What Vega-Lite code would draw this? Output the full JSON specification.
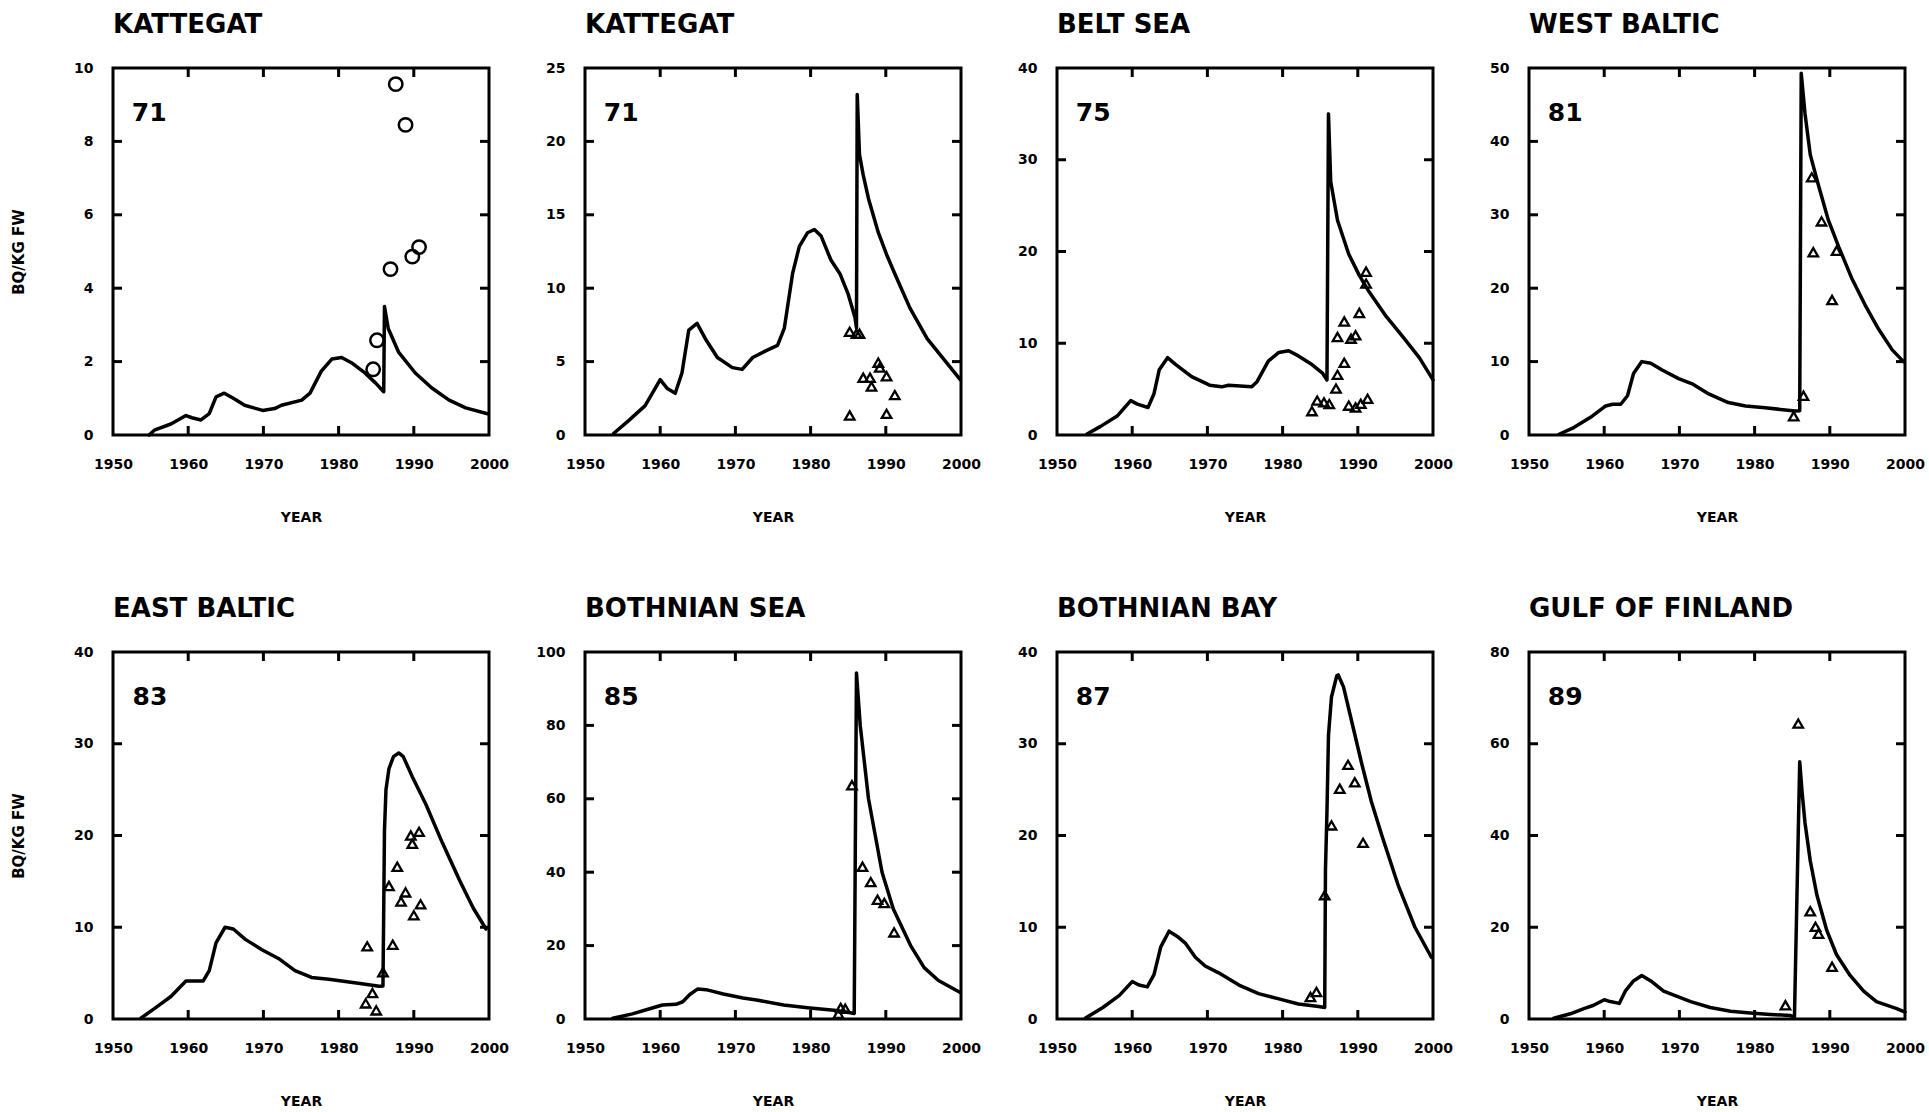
{
  "$schema": "https://vega.github.io/schema/vega-lite/v6.json",
  "padding": {"left": 10, "top": 10, "right": 0, "bottom": 0},
  "background": "white",
  "config": {
    "font": "DejaVu Sans",
    "view": {"stroke": "black", "strokeWidth": 3},
    "axis": {
      "domain": false, "grid": false, "ticks": false,
      "labelFont": "DejaVu Sans", "labelFontWeight": "bold", "labelFontSize": 14, "labelColor": "black",
      "labelFlush": false, "labelOverlap": false, "labelBound": false,
      "titleFont": "DejaVu Sans", "titleFontWeight": "bold", "titleFontSize": 14, "titleColor": "black"
    },
    "axisX": {"labelPadding": 22, "titlePadding": 39, "format": "d"},
    "axisY": {"labelPadding": 20, "titlePadding": 47, "titleFontSize": 15},
    "title": {"font": "DejaVu Sans", "fontSize": 26, "fontWeight": "bold", "anchor": "start", "frame": "group", "color": "black", "offset": 23},
    "line": {"color": "black", "strokeWidth": 3.5, "strokeJoin": "round", "strokeCap": "round", "clip": true},
    "rule": {"color": "black", "strokeWidth": 3},
    "point": {"color": "black", "filled": false, "strokeWidth": 2.3, "opacity": 1},
    "text": {"color": "black", "font": "DejaVu Sans", "fontSize": 25, "fontWeight": "bold", "align": "left", "baseline": "alphabetic"}
  },
  "datasets": {
    "xticks": [{"year": 1960}, {"year": 1970}, {"year": 1980}, {"year": 1990}],
    "yticks": [
      {"p":1,"bq":2},{"p":1,"bq":4},{"p":1,"bq":6},{"p":1,"bq":8},
      {"p":2,"bq":5},{"p":2,"bq":10},{"p":2,"bq":15},{"p":2,"bq":20},
      {"p":3,"bq":10},{"p":3,"bq":20},{"p":3,"bq":30},
      {"p":4,"bq":10},{"p":4,"bq":20},{"p":4,"bq":30},{"p":4,"bq":40},
      {"p":5,"bq":10},{"p":5,"bq":20},{"p":5,"bq":30},
      {"p":6,"bq":20},{"p":6,"bq":40},{"p":6,"bq":60},{"p":6,"bq":80},
      {"p":7,"bq":10},{"p":7,"bq":20},{"p":7,"bq":30},
      {"p":8,"bq":20},{"p":8,"bq":40},{"p":8,"bq":60}
    ],
    "model": [
      {"p":1,"year":1954.8,"bq":0},{"p":1,"year":1955.5,"bq":0.13},{"p":1,"year":1957.7,"bq":0.3},{"p":1,"year":1959.7,"bq":0.53},{"p":1,"year":1960.5,"bq":0.47},{"p":1,"year":1961.7,"bq":0.41},{"p":1,"year":1962.8,"bq":0.58},{"p":1,"year":1963.7,"bq":1.04},{"p":1,"year":1964.8,"bq":1.14},{"p":1,"year":1966,"bq":1.0},{"p":1,"year":1967.5,"bq":0.81},{"p":1,"year":1969.9,"bq":0.67},{"p":1,"year":1971.5,"bq":0.72},{"p":1,"year":1972.4,"bq":0.81},{"p":1,"year":1975.1,"bq":0.95},{"p":1,"year":1976.2,"bq":1.14},{"p":1,"year":1977.7,"bq":1.74},{"p":1,"year":1979.1,"bq":2.07},{"p":1,"year":1980.4,"bq":2.11},{"p":1,"year":1981.7,"bq":1.97},{"p":1,"year":1983.5,"bq":1.69},{"p":1,"year":1984.9,"bq":1.42},{"p":1,"year":1986.0,"bq":1.18},{"p":1,"year":1986.1,"bq":3.5},{"p":1,"year":1986.6,"bq":2.9},{"p":1,"year":1988.0,"bq":2.25},{"p":1,"year":1990.2,"bq":1.69},{"p":1,"year":1992.4,"bq":1.28},{"p":1,"year":1994.7,"bq":0.95},{"p":1,"year":1996.9,"bq":0.74},{"p":1,"year":1999.8,"bq":0.58},
      {"p":2,"year":1953.8,"bq":0.1},{"p":2,"year":1955.8,"bq":0.98},{"p":2,"year":1958.0,"bq":2.0},{"p":2,"year":1960.0,"bq":3.77},{"p":2,"year":1960.9,"bq":3.19},{"p":2,"year":1962.0,"bq":2.84},{"p":2,"year":1962.9,"bq":4.24},{"p":2,"year":1963.8,"bq":7.15},{"p":2,"year":1964.9,"bq":7.6},{"p":2,"year":1966.0,"bq":6.56},{"p":2,"year":1967.6,"bq":5.28},{"p":2,"year":1969.6,"bq":4.59},{"p":2,"year":1970.9,"bq":4.47},{"p":2,"year":1972.3,"bq":5.28},{"p":2,"year":1974.1,"bq":5.75},{"p":2,"year":1975.6,"bq":6.1},{"p":2,"year":1976.5,"bq":7.26},{"p":2,"year":1977.6,"bq":10.99},{"p":2,"year":1978.5,"bq":12.85},{"p":2,"year":1979.6,"bq":13.78},{"p":2,"year":1980.5,"bq":14.0},{"p":2,"year":1981.4,"bq":13.55},{"p":2,"year":1982.7,"bq":11.92},{"p":2,"year":1983.9,"bq":10.99},{"p":2,"year":1985.0,"bq":9.59},{"p":2,"year":1985.9,"bq":8.0},{"p":2,"year":1986.1,"bq":7.3},{"p":2,"year":1986.2,"bq":23.2},{"p":2,"year":1986.5,"bq":19.1},{"p":2,"year":1987.0,"bq":17.7},{"p":2,"year":1987.7,"bq":16.1},{"p":2,"year":1989.0,"bq":13.8},{"p":2,"year":1990.1,"bq":12.3},{"p":2,"year":1991.4,"bq":10.75},{"p":2,"year":1993.2,"bq":8.66},{"p":2,"year":1995.5,"bq":6.56},{"p":2,"year":1997.7,"bq":5.17},{"p":2,"year":1999.9,"bq":3.77},
      {"p":3,"year":1954.0,"bq":0.1},{"p":3,"year":1955.8,"bq":0.94},{"p":3,"year":1958.0,"bq":2.06},{"p":3,"year":1959.8,"bq":3.75},{"p":3,"year":1960.7,"bq":3.37},{"p":3,"year":1962.1,"bq":3.0},{"p":3,"year":1962.9,"bq":4.5},{"p":3,"year":1963.6,"bq":7.12},{"p":3,"year":1964.7,"bq":8.43},{"p":3,"year":1965.8,"bq":7.68},{"p":3,"year":1967.9,"bq":6.37},{"p":3,"year":1970.3,"bq":5.43},{"p":3,"year":1971.9,"bq":5.25},{"p":3,"year":1972.8,"bq":5.43},{"p":3,"year":1975.9,"bq":5.25},{"p":3,"year":1976.6,"bq":5.81},{"p":3,"year":1978.1,"bq":8.06},{"p":3,"year":1979.5,"bq":9.0},{"p":3,"year":1980.8,"bq":9.18},{"p":3,"year":1982.1,"bq":8.62},{"p":3,"year":1983.9,"bq":7.68},{"p":3,"year":1985.3,"bq":6.75},{"p":3,"year":1985.9,"bq":6.0},{"p":3,"year":1986.1,"bq":35.0},{"p":3,"year":1986.4,"bq":27.6},{"p":3,"year":1987.3,"bq":23.4},{"p":3,"year":1988.8,"bq":19.7},{"p":3,"year":1990.2,"bq":17.4},{"p":3,"year":1991.5,"bq":15.6},{"p":3,"year":1993.8,"bq":12.9},{"p":3,"year":1996.0,"bq":10.7},{"p":3,"year":1998.2,"bq":8.4},{"p":3,"year":2000.0,"bq":6.0},
      {"p":4,"year":1954.0,"bq":0.1},{"p":4,"year":1955.8,"bq":0.93},{"p":4,"year":1958.4,"bq":2.56},{"p":4,"year":1960.2,"bq":3.96},{"p":4,"year":1961.1,"bq":4.19},{"p":4,"year":1962.2,"bq":4.19},{"p":4,"year":1963.1,"bq":5.35},{"p":4,"year":1963.9,"bq":8.38},{"p":4,"year":1965.0,"bq":10.0},{"p":4,"year":1966.2,"bq":9.78},{"p":4,"year":1967.7,"bq":8.85},{"p":4,"year":1969.9,"bq":7.68},{"p":4,"year":1971.7,"bq":6.98},{"p":4,"year":1973.9,"bq":5.59},{"p":4,"year":1976.5,"bq":4.42},{"p":4,"year":1978.8,"bq":3.96},{"p":4,"year":1981.4,"bq":3.72},{"p":4,"year":1985.4,"bq":3.26},{"p":4,"year":1986.0,"bq":3.3},{"p":4,"year":1986.2,"bq":49.3},{"p":4,"year":1986.7,"bq":43.8},{"p":4,"year":1987.4,"bq":38.2},{"p":4,"year":1988.5,"bq":34.0},{"p":4,"year":1989.8,"bq":29.3},{"p":4,"year":1991.2,"bq":25.6},{"p":4,"year":1992.9,"bq":21.4},{"p":4,"year":1994.7,"bq":17.7},{"p":4,"year":1996.5,"bq":14.4},{"p":4,"year":1998.3,"bq":11.6},{"p":4,"year":1999.8,"bq":10.0},
      {"p":5,"year":1953.7,"bq":0.08},{"p":5,"year":1955.5,"bq":1.13},{"p":5,"year":1957.7,"bq":2.45},{"p":5,"year":1959.7,"bq":4.15},{"p":5,"year":1960.8,"bq":4.15},{"p":5,"year":1962.0,"bq":4.15},{"p":5,"year":1962.8,"bq":5.28},{"p":5,"year":1963.7,"bq":8.3},{"p":5,"year":1964.9,"bq":10.0},{"p":5,"year":1966.0,"bq":9.81},{"p":5,"year":1967.6,"bq":8.68},{"p":5,"year":1969.8,"bq":7.55},{"p":5,"year":1972.0,"bq":6.6},{"p":5,"year":1974.2,"bq":5.28},{"p":5,"year":1976.4,"bq":4.53},{"p":5,"year":1978.7,"bq":4.34},{"p":5,"year":1980.9,"bq":4.08},{"p":5,"year":1983.1,"bq":3.85},{"p":5,"year":1985.4,"bq":3.58},{"p":5,"year":1985.9,"bq":3.6},{"p":5,"year":1986.0,"bq":12.0},{"p":5,"year":1986.1,"bq":20.5},{"p":5,"year":1986.3,"bq":25.0},{"p":5,"year":1986.7,"bq":27.3},{"p":5,"year":1987.3,"bq":28.6},{"p":5,"year":1988.0,"bq":29.0},{"p":5,"year":1988.6,"bq":28.6},{"p":5,"year":1989.8,"bq":26.4},{"p":5,"year":1991.6,"bq":23.4},{"p":5,"year":1993.8,"bq":19.2},{"p":5,"year":1996.1,"bq":15.1},{"p":5,"year":1997.9,"bq":12.1},{"p":5,"year":1999.6,"bq":9.81},
      {"p":6,"year":1953.7,"bq":0.2},{"p":6,"year":1956.3,"bq":1.4},{"p":6,"year":1958.6,"bq":2.8},{"p":6,"year":1960.3,"bq":3.8},{"p":6,"year":1962.1,"bq":4.0},{"p":6,"year":1963.0,"bq":4.7},{"p":6,"year":1963.9,"bq":6.6},{"p":6,"year":1965.0,"bq":8.2},{"p":6,"year":1966.1,"bq":8.0},{"p":6,"year":1968.4,"bq":6.8},{"p":6,"year":1971.0,"bq":5.7},{"p":6,"year":1972.8,"bq":5.2},{"p":6,"year":1976.4,"bq":3.8},{"p":6,"year":1979.9,"bq":3.0},{"p":6,"year":1983.1,"bq":2.4},{"p":6,"year":1985.3,"bq":1.7},{"p":6,"year":1985.8,"bq":1.5},{"p":6,"year":1986.1,"bq":94.3},{"p":6,"year":1986.6,"bq":80.0},{"p":6,"year":1987.7,"bq":60.0},{"p":6,"year":1989.5,"bq":40.0},{"p":6,"year":1991.0,"bq":30.0},{"p":6,"year":1993.3,"bq":20.0},{"p":6,"year":1995.1,"bq":14.0},{"p":6,"year":1997.0,"bq":10.5},{"p":6,"year":1999.9,"bq":7.2},
      {"p":7,"year":1953.8,"bq":0.1},{"p":7,"year":1956.1,"bq":1.25},{"p":7,"year":1958.3,"bq":2.57},{"p":7,"year":1960.0,"bq":4.08},{"p":7,"year":1960.9,"bq":3.7},{"p":7,"year":1962.0,"bq":3.5},{"p":7,"year":1962.9,"bq":4.84},{"p":7,"year":1963.8,"bq":7.86},{"p":7,"year":1964.9,"bq":9.57},{"p":7,"year":1966.0,"bq":9.0},{"p":7,"year":1967.1,"bq":8.24},{"p":7,"year":1968.4,"bq":6.73},{"p":7,"year":1969.7,"bq":5.78},{"p":7,"year":1971.5,"bq":5.03},{"p":7,"year":1974.2,"bq":3.7},{"p":7,"year":1976.8,"bq":2.76},{"p":7,"year":1979.5,"bq":2.19},{"p":7,"year":1982.1,"bq":1.63},{"p":7,"year":1984.8,"bq":1.36},{"p":7,"year":1985.6,"bq":1.25},{"p":7,"year":1985.7,"bq":16.2},{"p":7,"year":1985.9,"bq":22.6},{"p":7,"year":1986.1,"bq":30.9},{"p":7,"year":1986.5,"bq":35.1},{"p":7,"year":1987.2,"bq":37.4},{"p":7,"year":1987.4,"bq":37.5},{"p":7,"year":1988.1,"bq":36.2},{"p":7,"year":1989.2,"bq":32.4},{"p":7,"year":1990.5,"bq":27.9},{"p":7,"year":1991.8,"bq":23.7},{"p":7,"year":1993.2,"bq":20.0},{"p":7,"year":1995.4,"bq":14.5},{"p":7,"year":1997.6,"bq":10.0},{"p":7,"year":1999.8,"bq":6.7},
      {"p":8,"year":1953.3,"bq":0.15},{"p":8,"year":1955.5,"bq":1.14},{"p":8,"year":1957.3,"bq":2.27},{"p":8,"year":1958.6,"bq":3.0},{"p":8,"year":1960.0,"bq":4.2},{"p":8,"year":1960.8,"bq":3.8},{"p":8,"year":1962.0,"bq":3.4},{"p":8,"year":1962.8,"bq":6.07},{"p":8,"year":1963.9,"bq":8.3},{"p":8,"year":1965.0,"bq":9.5},{"p":8,"year":1966.2,"bq":8.3},{"p":8,"year":1967.9,"bq":6.07},{"p":8,"year":1969.7,"bq":4.93},{"p":8,"year":1971.5,"bq":3.8},{"p":8,"year":1974.1,"bq":2.5},{"p":8,"year":1976.8,"bq":1.67},{"p":8,"year":1979.4,"bq":1.3},{"p":8,"year":1982.1,"bq":1.0},{"p":8,"year":1984.7,"bq":0.76},{"p":8,"year":1985.3,"bq":0.4},{"p":8,"year":1986.0,"bq":56.1},{"p":8,"year":1986.3,"bq":49.7},{"p":8,"year":1986.7,"bq":42.8},{"p":8,"year":1987.4,"bq":34.5},{"p":8,"year":1988.3,"bq":26.9},{"p":8,"year":1989.6,"bq":19.3},{"p":8,"year":1990.9,"bq":14.0},{"p":8,"year":1992.7,"bq":9.5},{"p":8,"year":1994.5,"bq":6.07},{"p":8,"year":1996.2,"bq":3.8},{"p":8,"year":1998.9,"bq":2.27},{"p":8,"year":2000.0,"bq":1.5}
    ],
    "obs": [
      {"p":1,"year":1987.6,"bq":9.56},{"p":1,"year":1988.9,"bq":8.45},{"p":1,"year":1986.9,"bq":4.52},{"p":1,"year":1989.8,"bq":4.86},{"p":1,"year":1990.7,"bq":5.12},{"p":1,"year":1985.1,"bq":2.58},{"p":1,"year":1984.6,"bq":1.79},
      {"p":2,"year":1985.2,"bq":7.03},{"p":2,"year":1986.1,"bq":6.9},{"p":2,"year":1986.5,"bq":6.9},{"p":2,"year":1987.0,"bq":3.9},{"p":2,"year":1987.9,"bq":3.9},{"p":2,"year":1988.1,"bq":3.3},{"p":2,"year":1989.0,"bq":4.93},{"p":2,"year":1989.2,"bq":4.6},{"p":2,"year":1990.1,"bq":4.0},{"p":2,"year":1991.2,"bq":2.72},{"p":2,"year":1985.2,"bq":1.33},{"p":2,"year":1990.1,"bq":1.44},
      {"p":3,"year":1983.9,"bq":2.6},{"p":3,"year":1984.6,"bq":3.75},{"p":3,"year":1985.5,"bq":3.56},{"p":3,"year":1986.2,"bq":3.37},{"p":3,"year":1987.1,"bq":5.06},{"p":3,"year":1987.3,"bq":6.56},{"p":3,"year":1988.2,"bq":7.87},{"p":3,"year":1987.3,"bq":10.68},{"p":3,"year":1988.2,"bq":12.37},{"p":3,"year":1989.1,"bq":10.5},{"p":3,"year":1989.7,"bq":10.87},{"p":3,"year":1990.2,"bq":13.3},{"p":3,"year":1988.8,"bq":3.2},{"p":3,"year":1989.7,"bq":3.0},{"p":3,"year":1990.4,"bq":3.4},{"p":3,"year":1991.3,"bq":3.94},{"p":3,"year":1991.1,"bq":17.8},{"p":3,"year":1991.1,"bq":16.5},
      {"p":4,"year":1985.2,"bq":2.56},{"p":4,"year":1986.5,"bq":5.35},{"p":4,"year":1987.6,"bq":35.1},{"p":4,"year":1988.9,"bq":29.1},{"p":4,"year":1987.8,"bq":24.9},{"p":4,"year":1990.9,"bq":25.1},{"p":4,"year":1990.3,"bq":18.4},
      {"p":5,"year":1983.8,"bq":7.92},{"p":5,"year":1987.2,"bq":8.1},{"p":5,"year":1986.7,"bq":14.5},{"p":5,"year":1987.8,"bq":16.6},{"p":5,"year":1988.3,"bq":12.8},{"p":5,"year":1988.9,"bq":13.8},{"p":5,"year":1989.6,"bq":20.0},{"p":5,"year":1990.7,"bq":20.4},{"p":5,"year":1989.8,"bq":19.1},{"p":5,"year":1990.9,"bq":12.5},{"p":5,"year":1990.0,"bq":11.3},{"p":5,"year":1984.5,"bq":2.83},{"p":5,"year":1983.6,"bq":1.7},{"p":5,"year":1985.0,"bq":0.94},{"p":5,"year":1985.9,"bq":5.1},
      {"p":6,"year":1985.5,"bq":63.7},{"p":6,"year":1986.9,"bq":41.5},{"p":6,"year":1988.0,"bq":37.3},{"p":6,"year":1988.9,"bq":32.5},{"p":6,"year":1989.8,"bq":31.6},{"p":6,"year":1991.1,"bq":23.6},{"p":6,"year":1984.0,"bq":3.0},{"p":6,"year":1984.6,"bq":2.8},{"p":6,"year":1983.7,"bq":1.4},
      {"p":7,"year":1986.5,"bq":21.1},{"p":7,"year":1987.6,"bq":25.1},{"p":7,"year":1988.7,"bq":27.7},{"p":7,"year":1989.6,"bq":25.8},{"p":7,"year":1990.7,"bq":19.2},{"p":7,"year":1983.7,"bq":2.4},{"p":7,"year":1984.5,"bq":2.95},{"p":7,"year":1985.6,"bq":13.5},
      {"p":8,"year":1985.8,"bq":64.4},{"p":8,"year":1987.4,"bq":23.5},{"p":8,"year":1988.1,"bq":20.1},{"p":8,"year":1988.5,"bq":18.6},{"p":8,"year":1990.3,"bq":11.4},{"p":8,"year":1984.1,"bq":3.0}
    ]
  },
  "columns": 4,
  "bounds": "flush",
  "spacing": {"row": 217, "column": 96},
  "concat": [
    {
      "title": "KATTEGAT", "width": 376, "height": 367,
      "layer": [
        {"data": {"name": "model"}, "transform": [{"filter": "datum.p == 1"}], "mark": "line",
         "encoding": {"x": {"field": "year", "type": "quantitative", "scale": {"domain": [1950, 2000]}, "axis": {"title": "YEAR", "values": [1950,1960,1970,1980,1990,2000]}},
                      "y": {"field": "bq", "type": "quantitative", "scale": {"domain": [0, 10]}, "axis": {"title": "BQ/KG FW", "values": [0,2,4,6,8,10]}}}},
        {"data": {"name": "obs"}, "transform": [{"filter": "datum.p == 1"}], "mark": {"type": "point", "shape": "circle", "size": 180, "strokeWidth": 2.5},
         "encoding": {"x": {"field": "year", "type": "quantitative", "scale": {"domain": [1950, 2000]}},
                      "y": {"field": "bq", "type": "quantitative", "scale": {"domain": [0, 10]}}}},
        {"data": {"name": "xticks"}, "mark": "rule",
         "encoding": {"x": {"field": "year", "type": "quantitative", "scale": {"domain": [1950, 2000]}},
                      "y": {"datum": 0, "type": "quantitative", "scale": {"domain": [0, 10]}}, "y2": {"datum": 0.245}}},
        {"data": {"name": "xticks"}, "mark": "rule",
         "encoding": {"x": {"field": "year", "type": "quantitative", "scale": {"domain": [1950, 2000]}},
                      "y": {"datum": 10, "type": "quantitative", "scale": {"domain": [0, 10]}}, "y2": {"datum": 9.755}}},
        {"data": {"name": "yticks"}, "transform": [{"filter": "datum.p == 1"}], "mark": "rule",
         "encoding": {"y": {"field": "bq", "type": "quantitative", "scale": {"domain": [0, 10]}},
                      "x": {"datum": 1950, "type": "quantitative", "scale": {"domain": [1950, 2000]}}, "x2": {"datum": 1951.2}}},
        {"data": {"name": "yticks"}, "transform": [{"filter": "datum.p == 1"}], "mark": "rule",
         "encoding": {"y": {"field": "bq", "type": "quantitative", "scale": {"domain": [0, 10]}},
                      "x": {"datum": 2000, "type": "quantitative", "scale": {"domain": [1950, 2000]}}, "x2": {"datum": 1998.8}}},
        {"data": {"values": [{}]}, "mark": "text",
         "encoding": {"x": {"datum": 1952.5, "type": "quantitative", "scale": {"domain": [1950, 2000]}},
                      "y": {"datum": 8.55, "type": "quantitative", "scale": {"domain": [0, 10]}},
                      "text": {"value": "71"}}}
      ]
    },
    {
      "title": "KATTEGAT", "width": 376, "height": 367,
      "layer": [
        {"data": {"name": "model"}, "transform": [{"filter": "datum.p == 2"}], "mark": "line",
         "encoding": {"x": {"field": "year", "type": "quantitative", "scale": {"domain": [1950, 2000]}, "axis": {"title": "YEAR", "values": [1950,1960,1970,1980,1990,2000]}},
                      "y": {"field": "bq", "type": "quantitative", "scale": {"domain": [0, 25]}, "axis": {"title": null, "values": [0,5,10,15,20,25]}}}},
        {"data": {"name": "obs"}, "transform": [{"filter": "datum.p == 2"}], "mark": {"type": "point", "shape": "triangle-up", "size": 90},
         "encoding": {"x": {"field": "year", "type": "quantitative", "scale": {"domain": [1950, 2000]}},
                      "y": {"field": "bq", "type": "quantitative", "scale": {"domain": [0, 25]}}}},
        {"data": {"name": "xticks"}, "mark": "rule",
         "encoding": {"x": {"field": "year", "type": "quantitative", "scale": {"domain": [1950, 2000]}},
                      "y": {"datum": 0, "type": "quantitative", "scale": {"domain": [0, 25]}}, "y2": {"datum": 0.61}}},
        {"data": {"name": "xticks"}, "mark": "rule",
         "encoding": {"x": {"field": "year", "type": "quantitative", "scale": {"domain": [1950, 2000]}},
                      "y": {"datum": 25, "type": "quantitative", "scale": {"domain": [0, 25]}}, "y2": {"datum": 24.39}}},
        {"data": {"name": "yticks"}, "transform": [{"filter": "datum.p == 2"}], "mark": "rule",
         "encoding": {"y": {"field": "bq", "type": "quantitative", "scale": {"domain": [0, 25]}},
                      "x": {"datum": 1950, "type": "quantitative", "scale": {"domain": [1950, 2000]}}, "x2": {"datum": 1951.2}}},
        {"data": {"name": "yticks"}, "transform": [{"filter": "datum.p == 2"}], "mark": "rule",
         "encoding": {"y": {"field": "bq", "type": "quantitative", "scale": {"domain": [0, 25]}},
                      "x": {"datum": 2000, "type": "quantitative", "scale": {"domain": [1950, 2000]}}, "x2": {"datum": 1998.8}}},
        {"data": {"values": [{}]}, "mark": "text",
         "encoding": {"x": {"datum": 1952.5, "type": "quantitative", "scale": {"domain": [1950, 2000]}},
                      "y": {"datum": 21.4, "type": "quantitative", "scale": {"domain": [0, 25]}},
                      "text": {"value": "71"}}}
      ]
    },
    {
      "title": "BELT SEA", "width": 376, "height": 367,
      "layer": [
        {"data": {"name": "model"}, "transform": [{"filter": "datum.p == 3"}], "mark": "line",
         "encoding": {"x": {"field": "year", "type": "quantitative", "scale": {"domain": [1950, 2000]}, "axis": {"title": "YEAR", "values": [1950,1960,1970,1980,1990,2000]}},
                      "y": {"field": "bq", "type": "quantitative", "scale": {"domain": [0, 40]}, "axis": {"title": null, "values": [0,10,20,30,40]}}}},
        {"data": {"name": "obs"}, "transform": [{"filter": "datum.p == 3"}], "mark": {"type": "point", "shape": "triangle-up", "size": 90},
         "encoding": {"x": {"field": "year", "type": "quantitative", "scale": {"domain": [1950, 2000]}},
                      "y": {"field": "bq", "type": "quantitative", "scale": {"domain": [0, 40]}}}},
        {"data": {"name": "xticks"}, "mark": "rule",
         "encoding": {"x": {"field": "year", "type": "quantitative", "scale": {"domain": [1950, 2000]}},
                      "y": {"datum": 0, "type": "quantitative", "scale": {"domain": [0, 40]}}, "y2": {"datum": 0.98}}},
        {"data": {"name": "xticks"}, "mark": "rule",
         "encoding": {"x": {"field": "year", "type": "quantitative", "scale": {"domain": [1950, 2000]}},
                      "y": {"datum": 40, "type": "quantitative", "scale": {"domain": [0, 40]}}, "y2": {"datum": 39.02}}},
        {"data": {"name": "yticks"}, "transform": [{"filter": "datum.p == 3"}], "mark": "rule",
         "encoding": {"y": {"field": "bq", "type": "quantitative", "scale": {"domain": [0, 40]}},
                      "x": {"datum": 1950, "type": "quantitative", "scale": {"domain": [1950, 2000]}}, "x2": {"datum": 1951.2}}},
        {"data": {"name": "yticks"}, "transform": [{"filter": "datum.p == 3"}], "mark": "rule",
         "encoding": {"y": {"field": "bq", "type": "quantitative", "scale": {"domain": [0, 40]}},
                      "x": {"datum": 2000, "type": "quantitative", "scale": {"domain": [1950, 2000]}}, "x2": {"datum": 1998.8}}},
        {"data": {"values": [{}]}, "mark": "text",
         "encoding": {"x": {"datum": 1952.5, "type": "quantitative", "scale": {"domain": [1950, 2000]}},
                      "y": {"datum": 34.2, "type": "quantitative", "scale": {"domain": [0, 40]}},
                      "text": {"value": "75"}}}
      ]
    },
    {
      "title": "WEST BALTIC", "width": 376, "height": 367,
      "layer": [
        {"data": {"name": "model"}, "transform": [{"filter": "datum.p == 4"}], "mark": "line",
         "encoding": {"x": {"field": "year", "type": "quantitative", "scale": {"domain": [1950, 2000]}, "axis": {"title": "YEAR", "values": [1950,1960,1970,1980,1990,2000]}},
                      "y": {"field": "bq", "type": "quantitative", "scale": {"domain": [0, 50]}, "axis": {"title": null, "values": [0,10,20,30,40,50]}}}},
        {"data": {"name": "obs"}, "transform": [{"filter": "datum.p == 4"}], "mark": {"type": "point", "shape": "triangle-up", "size": 90},
         "encoding": {"x": {"field": "year", "type": "quantitative", "scale": {"domain": [1950, 2000]}},
                      "y": {"field": "bq", "type": "quantitative", "scale": {"domain": [0, 50]}}}},
        {"data": {"name": "xticks"}, "mark": "rule",
         "encoding": {"x": {"field": "year", "type": "quantitative", "scale": {"domain": [1950, 2000]}},
                      "y": {"datum": 0, "type": "quantitative", "scale": {"domain": [0, 50]}}, "y2": {"datum": 1.23}}},
        {"data": {"name": "xticks"}, "mark": "rule",
         "encoding": {"x": {"field": "year", "type": "quantitative", "scale": {"domain": [1950, 2000]}},
                      "y": {"datum": 50, "type": "quantitative", "scale": {"domain": [0, 50]}}, "y2": {"datum": 48.77}}},
        {"data": {"name": "yticks"}, "transform": [{"filter": "datum.p == 4"}], "mark": "rule",
         "encoding": {"y": {"field": "bq", "type": "quantitative", "scale": {"domain": [0, 50]}},
                      "x": {"datum": 1950, "type": "quantitative", "scale": {"domain": [1950, 2000]}}, "x2": {"datum": 1951.2}}},
        {"data": {"name": "yticks"}, "transform": [{"filter": "datum.p == 4"}], "mark": "rule",
         "encoding": {"y": {"field": "bq", "type": "quantitative", "scale": {"domain": [0, 50]}},
                      "x": {"datum": 2000, "type": "quantitative", "scale": {"domain": [1950, 2000]}}, "x2": {"datum": 1998.8}}},
        {"data": {"values": [{}]}, "mark": "text",
         "encoding": {"x": {"datum": 1952.5, "type": "quantitative", "scale": {"domain": [1950, 2000]}},
                      "y": {"datum": 42.75, "type": "quantitative", "scale": {"domain": [0, 50]}},
                      "text": {"value": "81"}}}
      ]
    },
    {
      "title": "EAST BALTIC", "width": 376, "height": 367,
      "layer": [
        {"data": {"name": "model"}, "transform": [{"filter": "datum.p == 5"}], "mark": "line",
         "encoding": {"x": {"field": "year", "type": "quantitative", "scale": {"domain": [1950, 2000]}, "axis": {"title": "YEAR", "values": [1950,1960,1970,1980,1990,2000]}},
                      "y": {"field": "bq", "type": "quantitative", "scale": {"domain": [0, 40]}, "axis": {"title": "BQ/KG FW", "values": [0,10,20,30,40]}}}},
        {"data": {"name": "obs"}, "transform": [{"filter": "datum.p == 5"}], "mark": {"type": "point", "shape": "triangle-up", "size": 90},
         "encoding": {"x": {"field": "year", "type": "quantitative", "scale": {"domain": [1950, 2000]}},
                      "y": {"field": "bq", "type": "quantitative", "scale": {"domain": [0, 40]}}}},
        {"data": {"name": "xticks"}, "mark": "rule",
         "encoding": {"x": {"field": "year", "type": "quantitative", "scale": {"domain": [1950, 2000]}},
                      "y": {"datum": 0, "type": "quantitative", "scale": {"domain": [0, 40]}}, "y2": {"datum": 0.98}}},
        {"data": {"name": "xticks"}, "mark": "rule",
         "encoding": {"x": {"field": "year", "type": "quantitative", "scale": {"domain": [1950, 2000]}},
                      "y": {"datum": 40, "type": "quantitative", "scale": {"domain": [0, 40]}}, "y2": {"datum": 39.02}}},
        {"data": {"name": "yticks"}, "transform": [{"filter": "datum.p == 5"}], "mark": "rule",
         "encoding": {"y": {"field": "bq", "type": "quantitative", "scale": {"domain": [0, 40]}},
                      "x": {"datum": 1950, "type": "quantitative", "scale": {"domain": [1950, 2000]}}, "x2": {"datum": 1951.2}}},
        {"data": {"name": "yticks"}, "transform": [{"filter": "datum.p == 5"}], "mark": "rule",
         "encoding": {"y": {"field": "bq", "type": "quantitative", "scale": {"domain": [0, 40]}},
                      "x": {"datum": 2000, "type": "quantitative", "scale": {"domain": [1950, 2000]}}, "x2": {"datum": 1998.8}}},
        {"data": {"values": [{}]}, "mark": "text",
         "encoding": {"x": {"datum": 1952.6, "type": "quantitative", "scale": {"domain": [1950, 2000]}},
                      "y": {"datum": 34.2, "type": "quantitative", "scale": {"domain": [0, 40]}},
                      "text": {"value": "83"}}}
      ]
    },
    {
      "title": "BOTHNIAN SEA", "width": 376, "height": 367,
      "layer": [
        {"data": {"name": "model"}, "transform": [{"filter": "datum.p == 6"}], "mark": "line",
         "encoding": {"x": {"field": "year", "type": "quantitative", "scale": {"domain": [1950, 2000]}, "axis": {"title": "YEAR", "values": [1950,1960,1970,1980,1990,2000]}},
                      "y": {"field": "bq", "type": "quantitative", "scale": {"domain": [0, 100]}, "axis": {"title": null, "values": [0,20,40,60,80,100]}}}},
        {"data": {"name": "obs"}, "transform": [{"filter": "datum.p == 6"}], "mark": {"type": "point", "shape": "triangle-up", "size": 90},
         "encoding": {"x": {"field": "year", "type": "quantitative", "scale": {"domain": [1950, 2000]}},
                      "y": {"field": "bq", "type": "quantitative", "scale": {"domain": [0, 100]}}}},
        {"data": {"name": "xticks"}, "mark": "rule",
         "encoding": {"x": {"field": "year", "type": "quantitative", "scale": {"domain": [1950, 2000]}},
                      "y": {"datum": 0, "type": "quantitative", "scale": {"domain": [0, 100]}}, "y2": {"datum": 2.45}}},
        {"data": {"name": "xticks"}, "mark": "rule",
         "encoding": {"x": {"field": "year", "type": "quantitative", "scale": {"domain": [1950, 2000]}},
                      "y": {"datum": 100, "type": "quantitative", "scale": {"domain": [0, 100]}}, "y2": {"datum": 97.55}}},
        {"data": {"name": "yticks"}, "transform": [{"filter": "datum.p == 6"}], "mark": "rule",
         "encoding": {"y": {"field": "bq", "type": "quantitative", "scale": {"domain": [0, 100]}},
                      "x": {"datum": 1950, "type": "quantitative", "scale": {"domain": [1950, 2000]}}, "x2": {"datum": 1951.2}}},
        {"data": {"name": "yticks"}, "transform": [{"filter": "datum.p == 6"}], "mark": "rule",
         "encoding": {"y": {"field": "bq", "type": "quantitative", "scale": {"domain": [0, 100]}},
                      "x": {"datum": 2000, "type": "quantitative", "scale": {"domain": [1950, 2000]}}, "x2": {"datum": 1998.8}}},
        {"data": {"values": [{}]}, "mark": "text",
         "encoding": {"x": {"datum": 1952.5, "type": "quantitative", "scale": {"domain": [1950, 2000]}},
                      "y": {"datum": 85.5, "type": "quantitative", "scale": {"domain": [0, 100]}},
                      "text": {"value": "85"}}}
      ]
    },
    {
      "title": "BOTHNIAN BAY", "width": 376, "height": 367,
      "layer": [
        {"data": {"name": "model"}, "transform": [{"filter": "datum.p == 7"}], "mark": "line",
         "encoding": {"x": {"field": "year", "type": "quantitative", "scale": {"domain": [1950, 2000]}, "axis": {"title": "YEAR", "values": [1950,1960,1970,1980,1990,2000]}},
                      "y": {"field": "bq", "type": "quantitative", "scale": {"domain": [0, 40]}, "axis": {"title": null, "values": [0,10,20,30,40]}}}},
        {"data": {"name": "obs"}, "transform": [{"filter": "datum.p == 7"}], "mark": {"type": "point", "shape": "triangle-up", "size": 90},
         "encoding": {"x": {"field": "year", "type": "quantitative", "scale": {"domain": [1950, 2000]}},
                      "y": {"field": "bq", "type": "quantitative", "scale": {"domain": [0, 40]}}}},
        {"data": {"name": "xticks"}, "mark": "rule",
         "encoding": {"x": {"field": "year", "type": "quantitative", "scale": {"domain": [1950, 2000]}},
                      "y": {"datum": 0, "type": "quantitative", "scale": {"domain": [0, 40]}}, "y2": {"datum": 0.98}}},
        {"data": {"name": "xticks"}, "mark": "rule",
         "encoding": {"x": {"field": "year", "type": "quantitative", "scale": {"domain": [1950, 2000]}},
                      "y": {"datum": 40, "type": "quantitative", "scale": {"domain": [0, 40]}}, "y2": {"datum": 39.02}}},
        {"data": {"name": "yticks"}, "transform": [{"filter": "datum.p == 7"}], "mark": "rule",
         "encoding": {"y": {"field": "bq", "type": "quantitative", "scale": {"domain": [0, 40]}},
                      "x": {"datum": 1950, "type": "quantitative", "scale": {"domain": [1950, 2000]}}, "x2": {"datum": 1951.2}}},
        {"data": {"name": "yticks"}, "transform": [{"filter": "datum.p == 7"}], "mark": "rule",
         "encoding": {"y": {"field": "bq", "type": "quantitative", "scale": {"domain": [0, 40]}},
                      "x": {"datum": 2000, "type": "quantitative", "scale": {"domain": [1950, 2000]}}, "x2": {"datum": 1998.8}}},
        {"data": {"values": [{}]}, "mark": "text",
         "encoding": {"x": {"datum": 1952.5, "type": "quantitative", "scale": {"domain": [1950, 2000]}},
                      "y": {"datum": 34.2, "type": "quantitative", "scale": {"domain": [0, 40]}},
                      "text": {"value": "87"}}}
      ]
    },
    {
      "title": "GULF OF FINLAND", "width": 376, "height": 367,
      "layer": [
        {"data": {"name": "model"}, "transform": [{"filter": "datum.p == 8"}], "mark": "line",
         "encoding": {"x": {"field": "year", "type": "quantitative", "scale": {"domain": [1950, 2000]}, "axis": {"title": "YEAR", "values": [1950,1960,1970,1980,1990,2000]}},
                      "y": {"field": "bq", "type": "quantitative", "scale": {"domain": [0, 80]}, "axis": {"title": null, "values": [0,20,40,60,80]}}}},
        {"data": {"name": "obs"}, "transform": [{"filter": "datum.p == 8"}], "mark": {"type": "point", "shape": "triangle-up", "size": 90},
         "encoding": {"x": {"field": "year", "type": "quantitative", "scale": {"domain": [1950, 2000]}},
                      "y": {"field": "bq", "type": "quantitative", "scale": {"domain": [0, 80]}}}},
        {"data": {"name": "xticks"}, "mark": "rule",
         "encoding": {"x": {"field": "year", "type": "quantitative", "scale": {"domain": [1950, 2000]}},
                      "y": {"datum": 0, "type": "quantitative", "scale": {"domain": [0, 80]}}, "y2": {"datum": 1.96}}},
        {"data": {"name": "xticks"}, "mark": "rule",
         "encoding": {"x": {"field": "year", "type": "quantitative", "scale": {"domain": [1950, 2000]}},
                      "y": {"datum": 80, "type": "quantitative", "scale": {"domain": [0, 80]}}, "y2": {"datum": 78.04}}},
        {"data": {"name": "yticks"}, "transform": [{"filter": "datum.p == 8"}], "mark": "rule",
         "encoding": {"y": {"field": "bq", "type": "quantitative", "scale": {"domain": [0, 80]}},
                      "x": {"datum": 1950, "type": "quantitative", "scale": {"domain": [1950, 2000]}}, "x2": {"datum": 1951.2}}},
        {"data": {"name": "yticks"}, "transform": [{"filter": "datum.p == 8"}], "mark": "rule",
         "encoding": {"y": {"field": "bq", "type": "quantitative", "scale": {"domain": [0, 80]}},
                      "x": {"datum": 2000, "type": "quantitative", "scale": {"domain": [1950, 2000]}}, "x2": {"datum": 1998.8}}},
        {"data": {"values": [{}]}, "mark": "text",
         "encoding": {"x": {"datum": 1952.5, "type": "quantitative", "scale": {"domain": [1950, 2000]}},
                      "y": {"datum": 68.4, "type": "quantitative", "scale": {"domain": [0, 80]}},
                      "text": {"value": "89"}}}
      ]
    }
  ]
}
